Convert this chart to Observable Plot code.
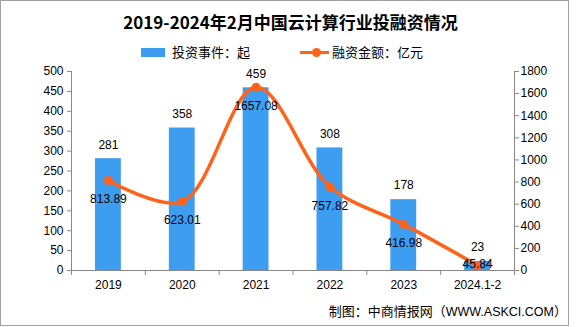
<!DOCTYPE html>
<html><head><meta charset="utf-8">
<script src="https://cdn.jsdelivr.net/npm/d3@7"></script>
<script src="https://cdn.jsdelivr.net/npm/@observablehq/plot@0.6"></script>
<style>
body{margin:0;background:#fff;}
#wrap{position:relative;width:581px;height:327px;overflow:hidden;font-family:"Noto Sans CJK SC",sans-serif;color:#000;}
#frame{position:absolute;left:0;top:0;width:567px;height:324px;border:1px solid #a0a0a0;}
#chart{position:absolute;left:0;top:0;}
.abs{position:absolute;white-space:nowrap;line-height:1;}
#title{left:0;width:581px;top:13px;text-align:center;font-size:17px;font-weight:bold;padding-left:0px;}
#lg1box{left:141px;top:48px;width:24px;height:9px;background:#3d9df0;}
#lg1{left:172px;top:45px;font-size:13px;}
#lg2line{left:300px;top:51px;width:29px;height:3px;background:#ff6319;}
#lg2dot{left:312px;top:48px;width:9px;height:9px;border-radius:50%;background:#ff6319;}
#lg2{left:332px;top:45px;font-size:13px;}
#cap{right:14px;top:304px;font-size:13px;}
#cap span{font-family:"Liberation Sans",Arial,sans-serif;font-size:12.5px;}
</style>
</head><body>
<div id="wrap">
  <div id="frame"></div>
  <div id="chart"></div>
  <div class="abs" id="title">2019-2024年2月中国云计算行业投融资情况</div>
  <div class="abs" id="lg1box"></div>
  <div class="abs" id="lg1">投资事件：起</div>
  <div class="abs" id="lg2line"></div>
  <div class="abs" id="lg2dot"></div>
  <div class="abs" id="lg2">融资金额：亿元</div>
  <div class="abs" id="cap">制图：中商情报网（<span>WWW.ASKCI.COM</span>）</div>
</div>
<script>
const years = ["2019", "2020", "2021", "2022", "2023", "2024.1-2"];
const events = [281, 358, 459, 308, 178, 23];
const amounts = [813.89, 623.01, 1657.08, 757.82, 416.98, 45.84];
const leftTicks = d3.range(0, 501, 50);
const rightTicks = d3.range(0, 1801, 200);

const k = 500 / 1800;
const rows = years.map((y, i) => ({i, year: y, events: events[i], amount: amounts[i], amt: amounts[i] * k}));
const last = rows.length - 1;

const axisColor = "#888";
const font = "Liberation Sans, Arial, sans-serif";

const chart = Plot.plot({
  width: 581,
  height: 327,
  marginLeft: 71,
  marginRight: 67,
  marginTop: 71,
  marginBottom: 57,
  style: {fontFamily: font, fontSize: "12px", background: "transparent", color: "#000"},
  x: {type: "linear", domain: [-0.5, 5.5]},
  y: {domain: [0, 500]},
  marks: [
    Plot.rectY(rows, {x1: d => d.i - 0.175, x2: d => d.i + 0.175, y: "events", fill: "#3d9df0"}),
    Plot.line(rows, {x: "i", y: "amt", stroke: "#ff6319", strokeWidth: 3.5, curve: "catmull-rom"}),
    Plot.dot(rows, {x: "i", y: "amt", r: 4.5, fill: "#ff6319"}),
    Plot.text(rows, {x: "i", y: "events", text: d => String(d.events), dy: -14, fontSize: 12, fill: "#000"}),
    Plot.text(rows.filter(d => d.i !== last), {x: "i", y: "amt", text: d => d.amount.toFixed(2), dy: 19, fontSize: 12, fill: "#000"}),
    Plot.text(rows.filter(d => d.i === last), {x: "i", y: "amt", text: d => d.amount.toFixed(2), dy: -1, fontSize: 12, fill: "#000"}),
    Plot.ruleX([-0.5], {stroke: axisColor}),
    Plot.ruleX([5.5], {stroke: axisColor}),
    Plot.ruleY([0], {stroke: axisColor}),
    Plot.axisY({anchor: "left", ticks: leftTicks, tickSize: 4, tickPadding: 4, stroke: axisColor, color: "#000", fontSize: 12, label: null}),
    Plot.axisY({anchor: "right", ticks: rightTicks.map(v => v * k), tickFormat: d => String(Math.round(d / k)), tickSize: 4, tickPadding: 2, stroke: axisColor, color: "#000", fontSize: 12, label: null}),
    Plot.axisX({ticks: d3.range(-0.5, 6, 1), tickFormat: () => "", tickSize: 5, stroke: axisColor, label: null}),
    Plot.axisX({ticks: d3.range(0, 6), tickFormat: i => years[i], tickSize: 0, tickPadding: 10, fontSize: 12, color: "#000", label: null})
  ]
});
document.getElementById("chart").appendChild(chart);
</script>
</body></html>
